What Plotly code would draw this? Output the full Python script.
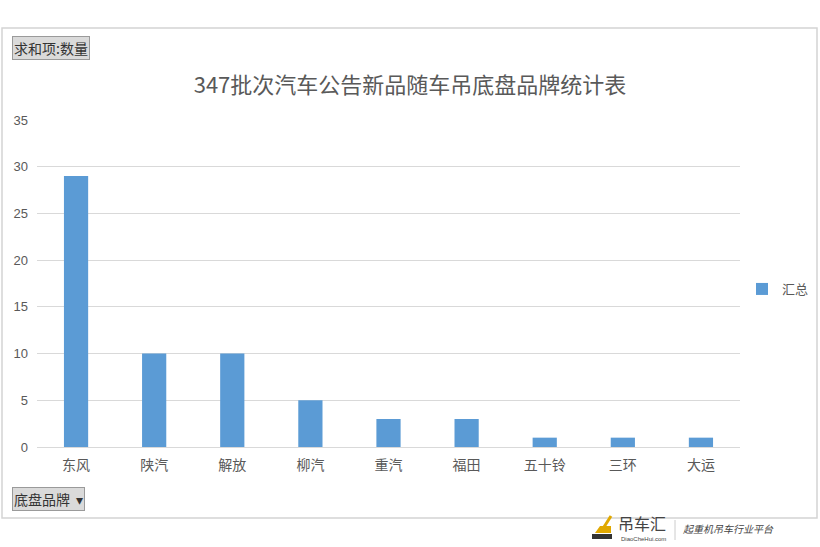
import plotly.graph_objects as go

categories = ["东风", "陕汽", "解放", "柳汽", "重汽", "福田", "五十铃", "三环", "大运"]
values = [29, 10, 10, 5, 3, 3, 1, 1, 1]
series_name = "汇总"
title_text = "347批次汽车公告新品随车吊底盘品牌统计表"
y_ticks = [0, 5, 10, 15, 20, 25, 30, 35]

W, H = 820, 547
L, R, T, B = 37, 740, 120, 447  # plot area in px

def px(x):
    return (x - L) / (R - L)

def py(y):
    return (B - y) / (B - T)

FONT = "Noto Sans CJK SC"
GRAY = "#595959"

fig = go.Figure()
fig.add_trace(go.Bar(
    x=categories, y=values, name=series_name,
    marker=dict(color="#5B9BD5", line=dict(width=0)),
    width=0.31, showlegend=True,
))

shapes = [
    # outer chart frame
    dict(type="rect", xref="paper", yref="paper",
         x0=px(2), x1=px(817), y0=py(518), y1=py(28),
         line=dict(color="#d4d4d4", width=1.5), fillcolor="rgba(0,0,0,0)", layer="below"),
    # watermark separator
    dict(type="line", xref="paper", yref="paper",
         x0=px(675), x1=px(675), y0=py(520), y1=py(540),
         line=dict(color="#cccccc", width=1)),
    # crane icon approximation
    dict(type="rect", xref="paper", yref="paper",
         x0=px(592), x1=px(612), y0=py(539), y1=py(534),
         line=dict(width=0), fillcolor="#333333"),
    dict(type="path", xref="paper", yref="paper",
         path=f"M {px(595)} {py(533)} L {px(611)} {py(533)} L {px(611)} {py(526)} L {px(600)} {py(526)} Z",
         line=dict(width=0), fillcolor="#e0a800"),
    dict(type="line", xref="paper", yref="paper",
         x0=px(604), x1=px(611), y0=py(527), y1=py(516),
         line=dict(color="#e0a800", width=3)),
]

annotations = [
    dict(text="求和项:数量", xref="paper", yref="paper", x=px(12), y=py(48),
         xanchor="left", yanchor="middle", showarrow=False,
         font=dict(family=FONT, size=14, color="#333333"),
         bgcolor="#dadada", bordercolor="#9a9a9a", borderwidth=1, borderpad=1),
    dict(text="底盘品牌  ▾", xref="paper", yref="paper", x=px(12), y=py(499),
         xanchor="left", yanchor="middle", showarrow=False,
         font=dict(family=FONT, size=14, color="#333333"),
         bgcolor="#dadada", bordercolor="#9a9a9a", borderwidth=1, borderpad=1),
    dict(text="吊车汇", xref="paper", yref="paper", x=px(616), y=py(523),
         xanchor="left", yanchor="middle", showarrow=False,
         font=dict(family=FONT, size=16, color="#444444")),
    dict(text="DiaoCheHui.com", xref="paper", yref="paper", x=px(619), y=py(539),
         xanchor="left", yanchor="middle", showarrow=False,
         font=dict(family="Liberation Sans", size=6, color="#444444")),
    dict(text="<i>起重机吊车行业平台</i>", xref="paper", yref="paper", x=px(681), y=py(528),
         xanchor="left", yanchor="middle", showarrow=False,
         font=dict(family=FONT, size=10, color="#444444")),
]

fig.update_layout(
    width=W, height=H,
    margin=dict(l=L, r=W - R, t=T, b=H - B, pad=0, autoexpand=False),
    paper_bgcolor="white", plot_bgcolor="white",
    title=dict(text=title_text, x=0.5, xanchor="center", y=1 - 85 / H, yanchor="middle",
               font=dict(family=FONT, size=22, color=GRAY)),
    xaxis=dict(showgrid=False, showline=False, ticks="", zeroline=False,
               tickfont=dict(family=FONT, size=14, color=GRAY), ticklabelstandoff=8),
    yaxis=dict(range=[0, 35], tickvals=y_ticks, showgrid=True, gridcolor="#d9d9d9",
               gridwidth=1, zeroline=True, zerolinecolor="#d9d9d9", zerolinewidth=1,
               showline=False, ticks="",
               tickfont=dict(family="Liberation Sans", size=13, color=GRAY),
               ticklabelstandoff=8),
    legend=dict(x=px(742), y=py(289), xanchor="left", yanchor="middle",
                font=dict(family=FONT, size=13, color=GRAY),
                itemwidth=30, bgcolor="rgba(0,0,0,0)"),
    bargap=0.69,
    shapes=shapes, annotations=annotations,
)

fig.write_html("out.html", post_script="document.body.style.margin='0';",
               config={"displayModeBar": False})
